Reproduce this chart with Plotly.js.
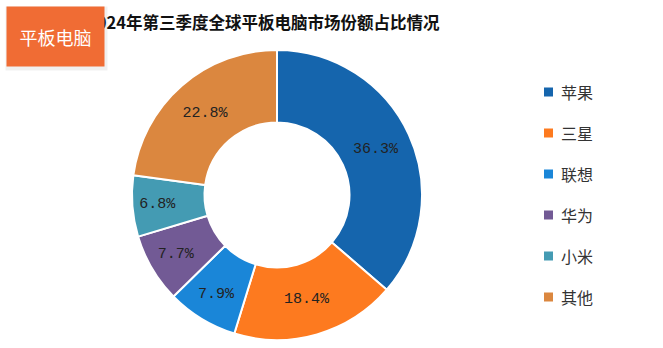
<!DOCTYPE html>
<html>
<head>
<meta charset="utf-8">
<script src="https://cdn.plot.ly/plotly-3.0.1.min.js"></script>
<style>html,body{margin:0;padding:0;background:#fff;}#chart{width:663px;height:348px;}</style>
</head>
<body>
<div id="chart"></div>
<script>
const brands = ['苹果', '三星', '联想', '华为', '小米', '其他'];
const shares = [36.3, 18.4, 7.9, 7.7, 6.8, 22.8];
const colors = ['#1565ad', '#fd7a1f', '#1a86d8', '#725a95', '#449bb3', '#db873f'];
const titleText = '2024年第三季度全球平板电脑市场份额占比情况';
const badgeText = '平板电脑';

const W = 663, H = 348;
const px = x => x / W;
const py = y => 1 - y / H;

const trace = {
  type: 'pie',
  labels: brands,
  values: shares,
  sort: false,
  direction: 'clockwise',
  rotation: 0,
  hole: 0.5,
  marker: {colors: colors, line: {color: '#ffffff', width: 2}},
  texttemplate: '%{value}%',
  textposition: 'inside',
  insidetextorientation: 'horizontal',
  textfont: {family: 'Liberation Mono, DejaVu Sans Mono, monospace', size: 15, color: '#222222'},
  hoverinfo: 'none',
  showlegend: false,
  domain: {x: [px(132), px(422)], y: [py(340), py(50)]}
};

const shapes = [];
const annotations = [];
// title
annotations.push({
  xref: 'paper', yref: 'paper', x: px(442), y: py(22), xanchor: 'right', yanchor: 'middle',
  text: '<b>' + titleText + '</b>', showarrow: false,
  font: {family: 'Noto Sans CJK SC, sans-serif', size: 16.5, color: '#111111'}
});
// badge shadow
annotations.push({
  xref: 'paper', yref: 'paper', x: px(56.5), y: py(38), xanchor: 'center', yanchor: 'middle',
  text: '', showarrow: false, width: 101, height: 63, borderpad: 0,
  bgcolor: 'rgba(0,0,0,0.06)'
});
// badge
annotations.push({
  xref: 'paper', yref: 'paper', x: px(55.5), y: py(36.5), xanchor: 'center', yanchor: 'middle',
  text: badgeText, showarrow: false, width: 97, height: 59, borderpad: 0,
  bgcolor: '#f06c34',
  font: {family: 'Noto Sans CJK SC, sans-serif', size: 18, color: '#ffffff'}
});
// legend
brands.forEach((b, i) => {
  const cy = 92 + i * 41;
  shapes.push({
    type: 'rect', xref: 'paper', yref: 'paper',
    x0: px(544), x1: px(553), y0: py(cy - 4.5), y1: py(cy + 4.5),
    fillcolor: colors[i], line: {width: 0}
  });
  annotations.push({
    xref: 'paper', yref: 'paper', x: px(559), y: py(cy), xanchor: 'left', yanchor: 'middle',
    text: b, showarrow: false,
    font: {family: 'Noto Sans CJK SC, sans-serif', size: 16, color: '#333333'}
  });
});

const layout = {
  width: W, height: H,
  margin: {l: 0, r: 0, t: 0, b: 0},
  paper_bgcolor: '#ffffff',
  showlegend: false,
  shapes: shapes,
  annotations: annotations
};

Plotly.newPlot('chart', [trace], layout, {displayModeBar: false, staticPlot: true});
</script>
</body>
</html>
